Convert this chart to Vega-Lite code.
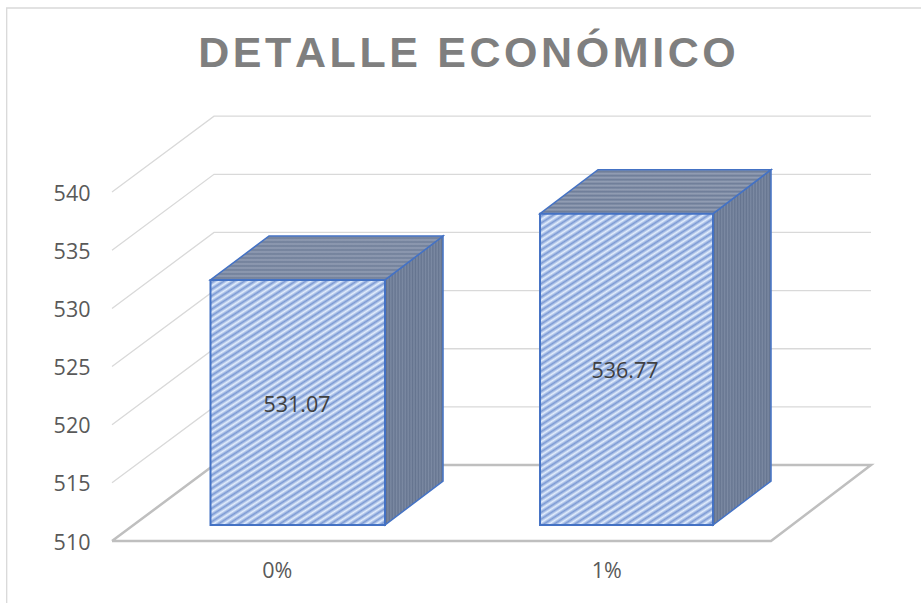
{
  "$schema": "https://vega.github.io/schema/vega-lite/v6.json",
  "width": 921, "height": 603, "autosize": "none", "padding": 0, "background": "white",
  "title": {"text": "D\u200aE\u200aT\u200aA\u200aL\u200aL\u200aE\u200a \u200aE\u200aC\u200aO\u200aN\u200aÓ\u200aM\u200aI\u200aC\u200aO", "font": "Liberation Sans", "fontSize": 43, "fontWeight": "bold", "color": "#7f7f7f", "anchor": "middle", "baseline": "alphabetic", "dx": 6.5, "dy": 113.5},
  "config": {"view": {"stroke": null}},
  "datasets": {
    "frame": [{"i":0,"x":-0.8196,"value":504.669},{"i":1,"x":-0.8196,"value":555.83},{"i":2,"x":1.9552,"value":555.83}],
    "grid": [
      {"g":515,"i":0,"x":-0.5,"value":515},{"g":515,"i":1,"x":-0.1904,"value":521.53},{"g":515,"i":2,"x":1.8035,"value":521.53},
      {"g":520,"i":0,"x":-0.5,"value":520},{"g":520,"i":1,"x":-0.1904,"value":526.53},{"g":520,"i":2,"x":1.8035,"value":526.53},
      {"g":525,"i":0,"x":-0.5,"value":525},{"g":525,"i":1,"x":-0.1904,"value":531.53},{"g":525,"i":2,"x":1.8035,"value":531.53},
      {"g":530,"i":0,"x":-0.5,"value":530},{"g":530,"i":1,"x":-0.1904,"value":536.53},{"g":530,"i":2,"x":1.8035,"value":536.53},
      {"g":535,"i":0,"x":-0.5,"value":535},{"g":535,"i":1,"x":-0.1904,"value":541.53},{"g":535,"i":2,"x":1.8035,"value":541.53},
      {"g":540,"i":0,"x":-0.5,"value":540},{"g":540,"i":1,"x":-0.1904,"value":546.53},{"g":540,"i":2,"x":1.8035,"value":546.53}
    ],
    "floor": [{"i":0,"x":-0.5,"value":510},{"i":1,"x":1.5,"value":510},{"i":2,"x":1.8035,"value":516.53},{"i":3,"x":-0.1904,"value":516.53},{"i":4,"x":-0.5,"value":510}],
    "bars": [
      {"category":"0%","x":-0.2011,"x2":0.3285,"value":531.07,"base":510,"labelX":0.0614,"labelAt":521.6},
      {"category":"1%","x":0.799,"x2":1.324,"value":536.77,"base":510,"labelX":1.0569,"labelAt":524.55}
    ],
    "sides": [
      {"category":"0%","x":0.3285,"value":531.07,"value2":510},{"category":"0%","x":0.5046,"value":534.85,"value2":513.78},
      {"category":"1%","x":1.324,"value":536.77,"value2":510},{"category":"1%","x":1.5,"value":540.55,"value2":513.78}
    ],
    "tops": [
      {"category":"0%","x":-0.2011,"value":531.07,"value2":531.07},{"category":"0%","x":-0.0235,"value":534.85,"value2":531.07},
      {"category":"0%","x":0.3285,"value":534.85,"value2":531.07},{"category":"0%","x":0.5046,"value":534.85,"value2":534.85},
      {"category":"1%","x":0.799,"value":536.77,"value2":536.77},{"category":"1%","x":0.975,"value":540.55,"value2":536.77},
      {"category":"1%","x":1.324,"value":540.55,"value2":536.77},{"category":"1%","x":1.5,"value":540.55,"value2":540.55}
    ]
  },
  "data": {"name": "bars"},
  "encoding": {
    "x": {"field": "x", "type": "quantitative", "title": null, "scale": {"domain": [-0.8399, 1.9552], "nice": false, "zero": false},
      "axis": {"values": [0, 1], "labelExpr": "datum.value + '%'", "domain": false, "ticks": false, "grid": false, "offset": -60, "labelPadding": 17, "labelFont": "Open Sans", "labelFontSize": 21.5, "labelColor": "#595959"}},
    "y": {"field": "value", "type": "quantitative", "title": null, "scale": {"domain": [504.669, 556.518], "nice": false, "zero": false},
      "axis": {"values": [510, 515, 520, 525, 530, 535, 540], "domain": false, "ticks": false, "grid": false, "offset": -92, "labelPadding": 2, "labelOffset": 2, "labelFont": "Open Sans", "labelFontSize": 21.5, "labelColor": "#595959"}}
  },
  "layer": [
    {"data": {"name": "frame"}, "mark": {"type": "line", "color": "#d9d9d9", "strokeWidth": 1.3, "clip": true}, "encoding": {"order": {"field": "i"}}},
    {"data": {"name": "grid"}, "mark": {"type": "line", "color": "#d9d9d9", "strokeWidth": 1.3}, "encoding": {"detail": {"field": "g"}, "order": {"field": "i"}}},
    {"data": {"name": "floor"}, "mark": {"type": "line", "color": "#bfbfbf", "strokeWidth": 2.5}, "encoding": {"order": {"field": "i"}}},
    {"data": {"name": "sides"}, "mark": {"type": "area", "orient": "vertical", "opacity": 1, "stroke": "#4472c4", "strokeWidth": 1.5, "yOffset": -16, "y2Offset": -16,
      "fill": {"gradient": "linear", "x1": 0, "y1": 0, "x2": 1, "y2": 0, "stops": [
        {"offset":0,"color":"#7c8aa3"},{"offset":0.025,"color":"#65748f"},{"offset":0.05,"color":"#7c8aa3"},{"offset":0.075,"color":"#65748f"},{"offset":0.1,"color":"#7c8aa3"},{"offset":0.125,"color":"#65748f"},{"offset":0.15,"color":"#7c8aa3"},{"offset":0.175,"color":"#65748f"},{"offset":0.2,"color":"#7c8aa3"},{"offset":0.225,"color":"#65748f"},{"offset":0.25,"color":"#7c8aa3"},{"offset":0.275,"color":"#65748f"},{"offset":0.3,"color":"#7c8aa3"},{"offset":0.325,"color":"#65748f"},{"offset":0.35,"color":"#7c8aa3"},{"offset":0.375,"color":"#65748f"},{"offset":0.4,"color":"#7c8aa3"},{"offset":0.425,"color":"#65748f"},{"offset":0.45,"color":"#7c8aa3"},{"offset":0.475,"color":"#65748f"},{"offset":0.5,"color":"#7c8aa3"},{"offset":0.525,"color":"#65748f"},{"offset":0.55,"color":"#7c8aa3"},{"offset":0.575,"color":"#65748f"},{"offset":0.6,"color":"#7c8aa3"},{"offset":0.625,"color":"#65748f"},{"offset":0.65,"color":"#7c8aa3"},{"offset":0.675,"color":"#65748f"},{"offset":0.7,"color":"#7c8aa3"},{"offset":0.725,"color":"#65748f"},{"offset":0.75,"color":"#7c8aa3"},{"offset":0.775,"color":"#65748f"},{"offset":0.8,"color":"#7c8aa3"},{"offset":0.825,"color":"#65748f"},{"offset":0.85,"color":"#7c8aa3"},{"offset":0.875,"color":"#65748f"},{"offset":0.9,"color":"#7c8aa3"},{"offset":0.925,"color":"#65748f"},{"offset":0.95,"color":"#7c8aa3"},{"offset":0.975,"color":"#65748f"},{"offset":1,"color":"#7c8aa3"}
      ]}}, "encoding": {"y2": {"field": "value2"}, "detail": {"field": "category"}}},
    {"data": {"name": "tops"}, "mark": {"type": "area", "orient": "vertical", "opacity": 1, "stroke": "#4472c4", "strokeWidth": 1.5, "yOffset": -16, "y2Offset": -16,
      "fill": {"gradient": "linear", "x1": 0, "y1": 0, "x2": 0, "y2": 1, "stops": [
        {"offset":0,"color":"#949fb5"},{"offset":0.0455,"color":"#6d7c97"},{"offset":0.0909,"color":"#949fb5"},{"offset":0.1364,"color":"#6d7c97"},{"offset":0.1818,"color":"#949fb5"},{"offset":0.2273,"color":"#6d7c97"},{"offset":0.2727,"color":"#949fb5"},{"offset":0.3182,"color":"#6d7c97"},{"offset":0.3636,"color":"#949fb5"},{"offset":0.4091,"color":"#6d7c97"},{"offset":0.4545,"color":"#949fb5"},{"offset":0.5,"color":"#6d7c97"},{"offset":0.5455,"color":"#949fb5"},{"offset":0.5909,"color":"#6d7c97"},{"offset":0.6364,"color":"#949fb5"},{"offset":0.6818,"color":"#6d7c97"},{"offset":0.7273,"color":"#949fb5"},{"offset":0.7727,"color":"#6d7c97"},{"offset":0.8182,"color":"#949fb5"},{"offset":0.8636,"color":"#6d7c97"},{"offset":0.9091,"color":"#949fb5"},{"offset":0.9545,"color":"#6d7c97"},{"offset":1,"color":"#949fb5"}
      ]}}, "encoding": {"y2": {"field": "value2"}, "detail": {"field": "category"}}},
    {"transform": [{"filter": "datum.category === '0%'"}],
     "mark": {"type": "rect", "stroke": "#4472c4", "strokeWidth": 2, "yOffset": -16, "y2Offset": -16,
      "fill": {"gradient": "linear", "x1": 0, "y1": 0, "x2": 0.559, "y2": 1.205, "stops": [
        {"offset":0,"color":"#e3eefd"},{"offset":0.0093,"color":"#7c9ad4"},{"offset":0.0185,"color":"#e3eefd"},{"offset":0.0278,"color":"#7c9ad4"},{"offset":0.037,"color":"#e3eefd"},{"offset":0.0463,"color":"#7c9ad4"},{"offset":0.0556,"color":"#e3eefd"},{"offset":0.0648,"color":"#7c9ad4"},{"offset":0.0741,"color":"#e3eefd"},{"offset":0.0833,"color":"#7c9ad4"},{"offset":0.0926,"color":"#e3eefd"},{"offset":0.1019,"color":"#7c9ad4"},
        {"offset":0.1111,"color":"#e3eefd"},{"offset":0.1204,"color":"#7c9ad4"},{"offset":0.1296,"color":"#e3eefd"},{"offset":0.1389,"color":"#7c9ad4"},{"offset":0.1481,"color":"#e3eefd"},{"offset":0.1574,"color":"#7c9ad4"},{"offset":0.1667,"color":"#e3eefd"},{"offset":0.1759,"color":"#7c9ad4"},{"offset":0.1852,"color":"#e3eefd"},{"offset":0.1944,"color":"#7c9ad4"},{"offset":0.2037,"color":"#e3eefd"},{"offset":0.213,"color":"#7c9ad4"},
        {"offset":0.2222,"color":"#e3eefd"},{"offset":0.2315,"color":"#7c9ad4"},{"offset":0.2407,"color":"#e3eefd"},{"offset":0.25,"color":"#7c9ad4"},{"offset":0.2593,"color":"#e3eefd"},{"offset":0.2685,"color":"#7c9ad4"},{"offset":0.2778,"color":"#e3eefd"},{"offset":0.287,"color":"#7c9ad4"},{"offset":0.2963,"color":"#e3eefd"},{"offset":0.3056,"color":"#7c9ad4"},{"offset":0.3148,"color":"#e3eefd"},{"offset":0.3241,"color":"#7c9ad4"},
        {"offset":0.3333,"color":"#e3eefd"},{"offset":0.3426,"color":"#7c9ad4"},{"offset":0.3519,"color":"#e3eefd"},{"offset":0.3611,"color":"#7c9ad4"},{"offset":0.3704,"color":"#e3eefd"},{"offset":0.3796,"color":"#7c9ad4"},{"offset":0.3889,"color":"#e3eefd"},{"offset":0.3981,"color":"#7c9ad4"},{"offset":0.4074,"color":"#e3eefd"},{"offset":0.4167,"color":"#7c9ad4"},{"offset":0.4259,"color":"#e3eefd"},{"offset":0.4352,"color":"#7c9ad4"},
        {"offset":0.4444,"color":"#e3eefd"},{"offset":0.4537,"color":"#7c9ad4"},{"offset":0.463,"color":"#e3eefd"},{"offset":0.4722,"color":"#7c9ad4"},{"offset":0.4815,"color":"#e3eefd"},{"offset":0.4907,"color":"#7c9ad4"},{"offset":0.5,"color":"#e3eefd"},{"offset":0.5093,"color":"#7c9ad4"},{"offset":0.5185,"color":"#e3eefd"},{"offset":0.5278,"color":"#7c9ad4"},{"offset":0.537,"color":"#e3eefd"},{"offset":0.5463,"color":"#7c9ad4"},
        {"offset":0.5556,"color":"#e3eefd"},{"offset":0.5648,"color":"#7c9ad4"},{"offset":0.5741,"color":"#e3eefd"},{"offset":0.5833,"color":"#7c9ad4"},{"offset":0.5926,"color":"#e3eefd"},{"offset":0.6019,"color":"#7c9ad4"},{"offset":0.6111,"color":"#e3eefd"},{"offset":0.6204,"color":"#7c9ad4"},{"offset":0.6296,"color":"#e3eefd"},{"offset":0.6389,"color":"#7c9ad4"},{"offset":0.6481,"color":"#e3eefd"},{"offset":0.6574,"color":"#7c9ad4"},
        {"offset":0.6667,"color":"#e3eefd"},{"offset":0.6759,"color":"#7c9ad4"},{"offset":0.6852,"color":"#e3eefd"},{"offset":0.6944,"color":"#7c9ad4"},{"offset":0.7037,"color":"#e3eefd"},{"offset":0.713,"color":"#7c9ad4"},{"offset":0.7222,"color":"#e3eefd"},{"offset":0.7315,"color":"#7c9ad4"},{"offset":0.7407,"color":"#e3eefd"},{"offset":0.75,"color":"#7c9ad4"},{"offset":0.7593,"color":"#e3eefd"},{"offset":0.7685,"color":"#7c9ad4"},
        {"offset":0.7778,"color":"#e3eefd"},{"offset":0.787,"color":"#7c9ad4"},{"offset":0.7963,"color":"#e3eefd"},{"offset":0.8056,"color":"#7c9ad4"},{"offset":0.8148,"color":"#e3eefd"},{"offset":0.8241,"color":"#7c9ad4"},{"offset":0.8333,"color":"#e3eefd"},{"offset":0.8426,"color":"#7c9ad4"},{"offset":0.8519,"color":"#e3eefd"},{"offset":0.8611,"color":"#7c9ad4"},{"offset":0.8704,"color":"#e3eefd"},{"offset":0.8796,"color":"#7c9ad4"},
        {"offset":0.8889,"color":"#e3eefd"},{"offset":0.8981,"color":"#7c9ad4"},{"offset":0.9074,"color":"#e3eefd"},{"offset":0.9167,"color":"#7c9ad4"},{"offset":0.9259,"color":"#e3eefd"},{"offset":0.9352,"color":"#7c9ad4"},{"offset":0.9444,"color":"#e3eefd"},{"offset":0.9537,"color":"#7c9ad4"},{"offset":0.963,"color":"#e3eefd"},{"offset":0.9722,"color":"#7c9ad4"},{"offset":0.9815,"color":"#e3eefd"},{"offset":0.9907,"color":"#7c9ad4"},{"offset":1,"color":"#e3eefd"}
      ]}}, "encoding": {"x2": {"field": "x2"}, "y2": {"field": "base"}}},
    {"transform": [{"filter": "datum.category === '1%'"}],
     "mark": {"type": "rect", "stroke": "#4472c4", "strokeWidth": 2, "yOffset": -16, "y2Offset": -16,
      "fill": {"gradient": "linear", "x1": 0, "y1": 0, "x2": 0.4355, "y2": 1.204, "stops": [
        {"offset":0,"color":"#e3eefd"},{"offset":0.0079,"color":"#7c9ad4"},{"offset":0.0159,"color":"#e3eefd"},{"offset":0.0238,"color":"#7c9ad4"},{"offset":0.0317,"color":"#e3eefd"},{"offset":0.0397,"color":"#7c9ad4"},{"offset":0.0476,"color":"#e3eefd"},{"offset":0.0556,"color":"#7c9ad4"},{"offset":0.0635,"color":"#e3eefd"},{"offset":0.0714,"color":"#7c9ad4"},{"offset":0.0794,"color":"#e3eefd"},{"offset":0.0873,"color":"#7c9ad4"},{"offset":0.0952,"color":"#e3eefd"},{"offset":0.1032,"color":"#7c9ad4"},
        {"offset":0.1111,"color":"#e3eefd"},{"offset":0.119,"color":"#7c9ad4"},{"offset":0.127,"color":"#e3eefd"},{"offset":0.1349,"color":"#7c9ad4"},{"offset":0.1429,"color":"#e3eefd"},{"offset":0.1508,"color":"#7c9ad4"},{"offset":0.1587,"color":"#e3eefd"},{"offset":0.1667,"color":"#7c9ad4"},{"offset":0.1746,"color":"#e3eefd"},{"offset":0.1825,"color":"#7c9ad4"},{"offset":0.1905,"color":"#e3eefd"},{"offset":0.1984,"color":"#7c9ad4"},{"offset":0.2063,"color":"#e3eefd"},{"offset":0.2143,"color":"#7c9ad4"},
        {"offset":0.2222,"color":"#e3eefd"},{"offset":0.2302,"color":"#7c9ad4"},{"offset":0.2381,"color":"#e3eefd"},{"offset":0.246,"color":"#7c9ad4"},{"offset":0.254,"color":"#e3eefd"},{"offset":0.2619,"color":"#7c9ad4"},{"offset":0.2698,"color":"#e3eefd"},{"offset":0.2778,"color":"#7c9ad4"},{"offset":0.2857,"color":"#e3eefd"},{"offset":0.2937,"color":"#7c9ad4"},{"offset":0.3016,"color":"#e3eefd"},{"offset":0.3095,"color":"#7c9ad4"},{"offset":0.3175,"color":"#e3eefd"},{"offset":0.3254,"color":"#7c9ad4"},
        {"offset":0.3333,"color":"#e3eefd"},{"offset":0.3413,"color":"#7c9ad4"},{"offset":0.3492,"color":"#e3eefd"},{"offset":0.3571,"color":"#7c9ad4"},{"offset":0.3651,"color":"#e3eefd"},{"offset":0.373,"color":"#7c9ad4"},{"offset":0.381,"color":"#e3eefd"},{"offset":0.3889,"color":"#7c9ad4"},{"offset":0.3968,"color":"#e3eefd"},{"offset":0.4048,"color":"#7c9ad4"},{"offset":0.4127,"color":"#e3eefd"},{"offset":0.4206,"color":"#7c9ad4"},{"offset":0.4286,"color":"#e3eefd"},{"offset":0.4365,"color":"#7c9ad4"},
        {"offset":0.4444,"color":"#e3eefd"},{"offset":0.4524,"color":"#7c9ad4"},{"offset":0.4603,"color":"#e3eefd"},{"offset":0.4683,"color":"#7c9ad4"},{"offset":0.4762,"color":"#e3eefd"},{"offset":0.4841,"color":"#7c9ad4"},{"offset":0.4921,"color":"#e3eefd"},{"offset":0.5,"color":"#7c9ad4"},{"offset":0.5079,"color":"#e3eefd"},{"offset":0.5159,"color":"#7c9ad4"},{"offset":0.5238,"color":"#e3eefd"},{"offset":0.5317,"color":"#7c9ad4"},{"offset":0.5397,"color":"#e3eefd"},{"offset":0.5476,"color":"#7c9ad4"},
        {"offset":0.5556,"color":"#e3eefd"},{"offset":0.5635,"color":"#7c9ad4"},{"offset":0.5714,"color":"#e3eefd"},{"offset":0.5794,"color":"#7c9ad4"},{"offset":0.5873,"color":"#e3eefd"},{"offset":0.5952,"color":"#7c9ad4"},{"offset":0.6032,"color":"#e3eefd"},{"offset":0.6111,"color":"#7c9ad4"},{"offset":0.619,"color":"#e3eefd"},{"offset":0.627,"color":"#7c9ad4"},{"offset":0.6349,"color":"#e3eefd"},{"offset":0.6429,"color":"#7c9ad4"},{"offset":0.6508,"color":"#e3eefd"},{"offset":0.6587,"color":"#7c9ad4"},
        {"offset":0.6667,"color":"#e3eefd"},{"offset":0.6746,"color":"#7c9ad4"},{"offset":0.6825,"color":"#e3eefd"},{"offset":0.6905,"color":"#7c9ad4"},{"offset":0.6984,"color":"#e3eefd"},{"offset":0.7063,"color":"#7c9ad4"},{"offset":0.7143,"color":"#e3eefd"},{"offset":0.7222,"color":"#7c9ad4"},{"offset":0.7302,"color":"#e3eefd"},{"offset":0.7381,"color":"#7c9ad4"},{"offset":0.746,"color":"#e3eefd"},{"offset":0.754,"color":"#7c9ad4"},{"offset":0.7619,"color":"#e3eefd"},{"offset":0.7698,"color":"#7c9ad4"},
        {"offset":0.7778,"color":"#e3eefd"},{"offset":0.7857,"color":"#7c9ad4"},{"offset":0.7937,"color":"#e3eefd"},{"offset":0.8016,"color":"#7c9ad4"},{"offset":0.8095,"color":"#e3eefd"},{"offset":0.8175,"color":"#7c9ad4"},{"offset":0.8254,"color":"#e3eefd"},{"offset":0.8333,"color":"#7c9ad4"},{"offset":0.8413,"color":"#e3eefd"},{"offset":0.8492,"color":"#7c9ad4"},{"offset":0.8571,"color":"#e3eefd"},{"offset":0.8651,"color":"#7c9ad4"},{"offset":0.873,"color":"#e3eefd"},{"offset":0.881,"color":"#7c9ad4"},
        {"offset":0.8889,"color":"#e3eefd"},{"offset":0.8968,"color":"#7c9ad4"},{"offset":0.9048,"color":"#e3eefd"},{"offset":0.9127,"color":"#7c9ad4"},{"offset":0.9206,"color":"#e3eefd"},{"offset":0.9286,"color":"#7c9ad4"},{"offset":0.9365,"color":"#e3eefd"},{"offset":0.9444,"color":"#7c9ad4"},{"offset":0.9524,"color":"#e3eefd"},{"offset":0.9603,"color":"#7c9ad4"},{"offset":0.9683,"color":"#e3eefd"},{"offset":0.9762,"color":"#7c9ad4"},{"offset":0.9841,"color":"#e3eefd"},{"offset":0.9921,"color":"#7c9ad4"},{"offset":1,"color":"#e3eefd"}
      ]}}, "encoding": {"x2": {"field": "x2"}, "y2": {"field": "base"}}},
    {"mark": {"type": "text", "font": "Open Sans", "fontSize": 21.5, "color": "#404040"}, "encoding": {"x": {"field": "labelX", "type": "quantitative"}, "y": {"field": "labelAt", "type": "quantitative"}, "text": {"field": "value", "type": "quantitative", "format": ".2f"}}}
  ]
}
